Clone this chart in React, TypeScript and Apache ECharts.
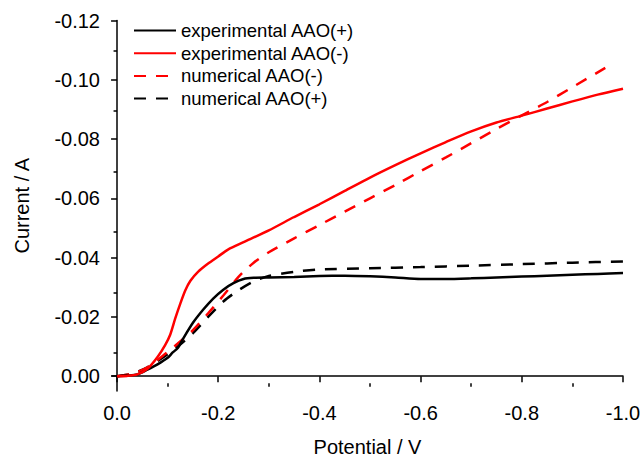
import React, { useEffect, useRef } from "react";
import * as echarts from "echarts";

// experimental AAO(+)
const expPlusV = [0, -0.02, -0.04, -0.06, -0.08, -0.1, -0.11, -0.12, -0.13, -0.15, -0.17, -0.19, -0.21, -0.23, -0.25, -0.27, -0.3, -0.35, -0.4, -0.45, -0.5, -0.55, -0.6, -0.65, -0.7, -0.75, -0.8, -0.85, -0.9, -0.95, -1.0];
const expPlusI = [0, -0.0002, -0.0006, -0.0022, -0.004, -0.0062, -0.008, -0.0095, -0.0125, -0.018, -0.0224, -0.0262, -0.0292, -0.0314, -0.0328, -0.0332, -0.0333, -0.0335, -0.0338, -0.0339, -0.0337, -0.0333, -0.0328, -0.0328, -0.033, -0.0333, -0.0336, -0.0339, -0.0342, -0.0345, -0.0348];

// experimental AAO(-)
const expMinusV = [0, -0.02, -0.04, -0.06, -0.08, -0.095, -0.105, -0.115, -0.125, -0.135, -0.145, -0.16, -0.18, -0.2, -0.22, -0.25, -0.3, -0.35, -0.4, -0.45, -0.5, -0.55, -0.6, -0.65, -0.7, -0.75, -0.8, -0.85, -0.9, -0.95, -1.0];
const expMinusI = [0, -0.0001, -0.0006, -0.0025, -0.0065, -0.0105, -0.014, -0.0195, -0.0245, -0.029, -0.0322, -0.0352, -0.038, -0.0404, -0.0428, -0.0452, -0.0492, -0.0537, -0.058, -0.0625, -0.067, -0.0712, -0.0752, -0.079, -0.0826, -0.0856, -0.0879, -0.0903, -0.0927, -0.095, -0.097];

// numerical AAO(-)
const numMinusV = [0, -0.03, -0.06, -0.09, -0.12, -0.15, -0.18, -0.21, -0.24, -0.27, -0.3, -0.35, -0.4, -0.45, -0.5, -0.55, -0.6, -0.65, -0.7, -0.75, -0.8, -0.85, -0.9, -0.965];
const numMinusI = [0, -0.0008, -0.003, -0.0068, -0.011, -0.0155, -0.0212, -0.0272, -0.0335, -0.0383, -0.0418, -0.0465, -0.051, -0.0555, -0.06, -0.0645, -0.0692, -0.0738, -0.0786, -0.0834, -0.088, -0.0925, -0.0975, -0.104];

// numerical AAO(+)
const numPlusV = [0, -0.03, -0.06, -0.09, -0.12, -0.15, -0.18, -0.21, -0.24, -0.27, -0.3, -0.35, -0.4, -0.5, -0.6, -0.7, -0.8, -0.9, -1.0];
const numPlusI = [0, -0.0008, -0.003, -0.0062, -0.01, -0.0145, -0.02, -0.0252, -0.029, -0.032, -0.0338, -0.0352, -0.036, -0.0364, -0.0368, -0.0373, -0.0378, -0.0383, -0.0387];

const xMajorTicks = [0, -0.2, -0.4, -0.6, -0.8, -1.0];
const xMinorTicks = [-0.1, -0.3, -0.5, -0.7, -0.9];
const yMajorTicks = [0, -0.02, -0.04, -0.06, -0.08, -0.1, -0.12];
const yMinorTicks = [-0.01, -0.03, -0.05, -0.07, -0.09, -0.11];

const legendOrder = ["experimental AAO(+)", "experimental AAO(-)", "numerical AAO(-)", "numerical AAO(+)"];

const FONT = "Liberation Sans, Arial, sans-serif";

const zip = (xs: number[], ys: number[]) => xs.map((x, i) => [x, ys[i]]);

export default function App() {
  const ref = useRef<HTMLDivElement>(null);

  useEffect(() => {
    if (!ref.current) return;
    const chart = echarts.init(ref.current, undefined, { renderer: "svg" });
    const gridRect = { left: 112, right: 21, top: 20.5, bottom: 63.7 };
    const axisLineStyle = { color: "#000", width: 1.5 };
    const xRange = { min: -1.0, max: 0.01, inverse: true };
    const yRange = { min: -0.12, max: 0.005, inverse: true };

    const lineSeries = (name: string, data: number[][], color: string, dashed: boolean) => ({
      name,
      type: "line",
      data,
      showSymbol: false,
      symbol: "none",
      smooth: 0.25,
      xAxisIndex: 0,
      yAxisIndex: 0,
      lineStyle: {
        color,
        width: 2.5,
        type: dashed ? [12, 10] : "solid",
      },
      itemStyle: { color },
    });

    chart.setOption({
      animation: false,
      backgroundColor: "#fff",
      grid: [{ ...gridRect }, { ...gridRect }],
      legend: {
        orient: "vertical",
        left: 128,
        top: 16,
        itemWidth: 42,
        itemHeight: 14,
        itemGap: 3.7,
        itemStyle: { opacity: 0 },
        textStyle: { fontFamily: FONT, fontSize: 18.5, color: "#000" },
        data: legendOrder,
      },
      xAxis: [
        {
          type: "value",
          gridIndex: 0,
          ...xRange,
          position: "bottom",
          name: "Potential / V",
          nameLocation: "middle",
          nameGap: 46,
          nameTextStyle: { fontFamily: FONT, fontSize: 20, color: "#000" },
          axisLine: { show: true, lineStyle: axisLineStyle },
          axisTick: { show: true, inside: false, length: 6, customValues: xMajorTicks, lineStyle: axisLineStyle },
          axisLabel: {
            customValues: xMajorTicks,
            margin: 12,
            fontFamily: FONT,
            fontSize: 20,
            color: "#000",
            formatter: (v: number) => (Math.abs(v) < 1e-9 ? "0.0" : v.toFixed(1)),
          },
          splitLine: { show: false },
        },
        {
          type: "value",
          gridIndex: 1,
          ...xRange,
          position: "bottom",
          axisLine: { show: false },
          axisTick: { show: true, inside: false, length: 3.5, customValues: xMinorTicks, lineStyle: axisLineStyle },
          axisLabel: { show: false },
          splitLine: { show: false },
        },
      ],
      yAxis: [
        {
          type: "value",
          gridIndex: 0,
          ...yRange,
          position: "left",
          name: "Current / A",
          nameLocation: "middle",
          nameRotate: 90,
          nameGap: 80,
          nameTextStyle: { fontFamily: FONT, fontSize: 20, color: "#000" },
          axisLine: { show: true, lineStyle: axisLineStyle },
          axisTick: { show: true, inside: false, length: 6, customValues: yMajorTicks, lineStyle: axisLineStyle },
          axisLabel: {
            customValues: yMajorTicks,
            margin: 12,
            fontFamily: FONT,
            fontSize: 20,
            color: "#000",
            formatter: (v: number) => (Math.abs(v) < 1e-9 ? "0.00" : v.toFixed(2)),
          },
          splitLine: { show: false },
        },
        {
          type: "value",
          gridIndex: 1,
          ...yRange,
          position: "left",
          axisLine: { show: false },
          axisTick: { show: true, inside: false, length: 3.5, customValues: yMinorTicks, lineStyle: axisLineStyle },
          axisLabel: { show: false },
          splitLine: { show: false },
        },
      ],
      series: [
        lineSeries("numerical AAO(+)", zip(numPlusV, numPlusI), "#000000", true),
        lineSeries("numerical AAO(-)", zip(numMinusV, numMinusI), "#ff0000", true),
        lineSeries("experimental AAO(+)", zip(expPlusV, expPlusI), "#000000", false),
        lineSeries("experimental AAO(-)", zip(expMinusV, expMinusI), "#ff0000", false),
      ],
    });
    return () => chart.dispose();
  }, []);

  return <div ref={ref} style={{ width: 644, height: 462, position: "absolute", left: 0, top: 0 }} />;
}
